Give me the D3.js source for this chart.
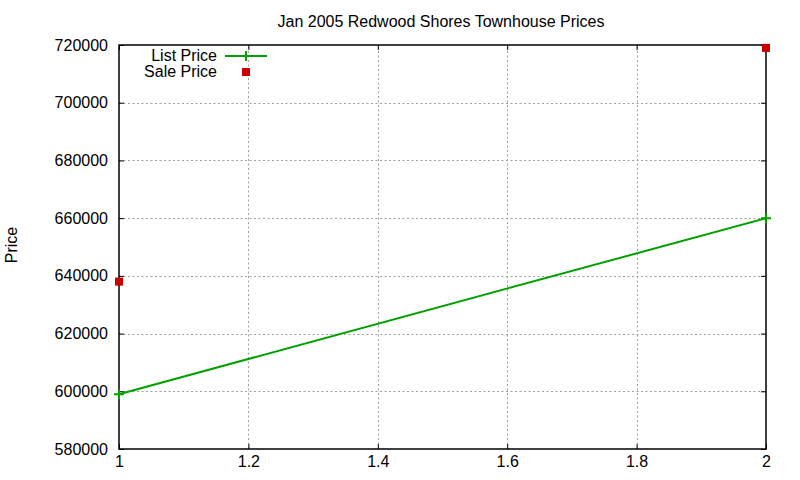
<!DOCTYPE html>
<html>
<head>
<meta charset="utf-8">
<script src="https://cdn.jsdelivr.net/npm/d3@7"></script>
<style>
  body { margin: 0; background: #fff; }
  svg { font-family: "Liberation Sans", Arial, sans-serif; }
</style>
</head>
<body>
<div id="chart"></div>
<script>
// data
const xValues = [1, 2];
const listPrice = [599000, 660000];
const salePrice = [638000, 719000];
const seriesNames = ["List Price", "Sale Price"];
const xTicks = [1, 1.2, 1.4, 1.6, 1.8, 2];
const yTicks = [580000, 600000, 620000, 640000, 660000, 680000, 700000, 720000];

const width = 800, height = 480;
const margin = { top: 45, right: 34, bottom: 31, left: 119 };

const svg = d3.select("#chart")
  .append("svg")
  .attr("width", width)
  .attr("height", height);

const x = d3.scaleLinear()
  .domain([1, 2])
  .range([margin.left, width - margin.right]);

const y = d3.scaleLinear()
  .domain([580000, 720000])
  .range([height - margin.bottom, margin.top]);

const green = "#00a000";
const red = "#cc0000";

// dotted grid
const grid = svg.append("g")
  .attr("stroke", "#a0a0a0")
  .attr("stroke-width", 1)
  .attr("stroke-dasharray", "2,2.5");

grid.selectAll(".gx")
  .data(xTicks.slice(1, -1))
  .join("line")
  .attr("x1", d => Math.round(x(d)) + 0.5)
  .attr("x2", d => Math.round(x(d)) + 0.5)
  .attr("y1", y.range()[0])
  .attr("y2", y.range()[1]);

grid.selectAll(".gy")
  .data(yTicks.slice(1, -1))
  .join("line")
  .attr("y1", d => Math.round(y(d)) + 0.5)
  .attr("y2", d => Math.round(y(d)) + 0.5)
  .attr("x1", x.range()[0])
  .attr("x2", x.range()[1]);

// the axes, ticks point inward (gnuplot style)
function styleAxis(g) {
  g.select(".domain").remove();
  g.selectAll("line").attr("stroke", "#000");
  g.selectAll("text").attr("fill", "#000").attr("font-size", 16);
}

svg.append("g")
  .attr("transform", `translate(${margin.left},0)`)
  .call(d3.axisLeft(y).tickValues(yTicks).tickFormat(d3.format("d"))
    .tickSizeInner(-5).tickSizeOuter(0).tickPadding(11))
  .call(styleAxis);

svg.append("g")
  .attr("transform", `translate(${width - margin.right},0)`)
  .call(d3.axisRight(y).tickValues(yTicks).tickFormat("")
    .tickSizeInner(-5).tickSizeOuter(0))
  .call(styleAxis);

svg.append("g")
  .attr("transform", `translate(0,${height - margin.bottom})`)
  .call(d3.axisBottom(x).tickValues(xTicks).tickFormat(d3.format("~g"))
    .tickSizeInner(-5).tickSizeOuter(0).tickPadding(7))
  .call(styleAxis);

svg.append("g")
  .attr("transform", `translate(0,${margin.top})`)
  .call(d3.axisTop(x).tickValues(xTicks).tickFormat("")
    .tickSizeInner(-5).tickSizeOuter(0))
  .call(styleAxis);

// frame
svg.append("rect")
  .attr("x", x.range()[0])
  .attr("y", y.range()[1])
  .attr("width", x.range()[1] - x.range()[0])
  .attr("height", y.range()[0] - y.range()[1])
  .attr("fill", "none")
  .attr("stroke", "#000")
  .attr("stroke-width", 1.5);

// list price line with + markers
const listData = xValues.map((d, i) => ({ x: d, v: listPrice[i] }));
const saleData = xValues.map((d, i) => ({ x: d, v: salePrice[i] }));

svg.append("path")
  .datum(listData)
  .attr("fill", "none")
  .attr("stroke", green)
  .attr("stroke-width", 2)
  .attr("d", d3.line().x(d => x(d.x)).y(d => y(d.v)));

function drawPlus(g, cx, cy) {
  g.append("path")
    .attr("d", `M${cx - 5},${cy}H${cx + 5}M${cx},${cy - 5}V${cy + 5}`)
    .attr("stroke", green)
    .attr("stroke-width", 2);
}
listData.forEach(d => drawPlus(svg, x(d.x), y(d.v)));

// sale price squares
svg.selectAll(".sale")
  .data(saleData)
  .join("rect")
  .attr("x", d => x(d.x) - 4)
  .attr("y", d => y(d.v) - 4)
  .attr("width", 8)
  .attr("height", 8)
  .attr("fill", red);

// legend
const legend = svg.append("g").attr("font-size", 16).attr("text-anchor", "end");
legend.append("text").attr("x", 217).attr("y", 61).text(seriesNames[0]);
legend.append("text").attr("x", 217).attr("y", 77).text(seriesNames[1]);
legend.append("line")
  .attr("x1", 225).attr("x2", 267).attr("y1", 56).attr("y2", 56)
  .attr("stroke", green).attr("stroke-width", 2);
drawPlus(legend, 246, 56);
legend.append("rect")
  .attr("x", 242).attr("y", 68).attr("width", 8).attr("height", 8)
  .attr("fill", red);

// title and axis label
svg.append("text")
  .attr("x", 441)
  .attr("y", 27)
  .attr("text-anchor", "middle")
  .attr("font-size", 16)
  .text("Jan 2005 Redwood Shores Townhouse Prices");

svg.append("text")
  .attr("transform", "translate(17,245) rotate(-90)")
  .attr("text-anchor", "middle")
  .attr("font-size", 16)
  .text("Price");
</script>
</body>
</html>
